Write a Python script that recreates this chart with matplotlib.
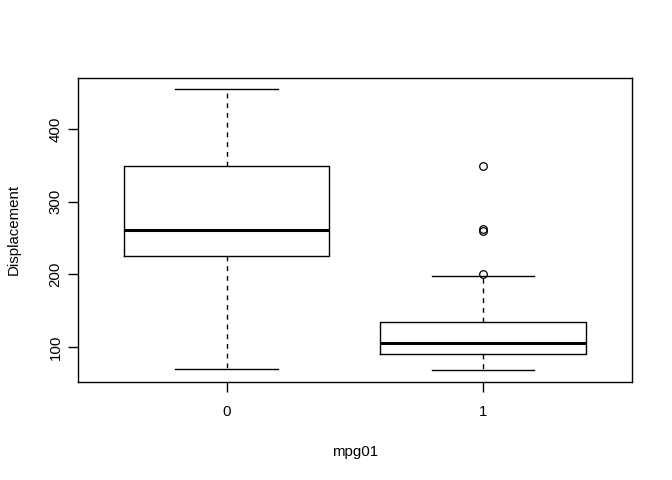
import matplotlib
matplotlib.use("Agg")
import matplotlib.pyplot as plt

plt.rcParams['font.family'] = ['Liberation Sans', 'DejaVu Sans']

# summary statistics (R boxplot of displacement by mpg01)
groups = ['0', '1']
whisker_low = [70, 68]
q1 = [225.75, 91]
medians = [261, 105]
q3 = [350, 134.5]
whisker_high = [455, 198]
outliers = [[], [200, 260, 262, 350]]

stats = []
for i, g in enumerate(groups):
    stats.append({'label': g, 'whislo': whisker_low[i], 'q1': q1[i],
                  'med': medians[i], 'q3': q3[i], 'whishi': whisker_high[i],
                  'fliers': outliers[i]})

fig = plt.figure(figsize=(6.72, 4.8), dpi=100)
ax = fig.add_axes([0.116, 0.205, 0.824, 0.6325])

ax.bxp(stats, positions=[1, 2], widths=0.8, patch_artist=False,
       boxprops=dict(color='black', linewidth=1),
       medianprops=dict(color='black', linewidth=2.2),
       whiskerprops=dict(color='black', linewidth=1, linestyle=(0, (3.5, 3.5))),
       capprops=dict(color='black', linewidth=1),
       capwidths=0.4,
       flierprops=dict(marker='o', markerfacecolor='none', markeredgecolor='black',
                       markersize=5.5, markeredgewidth=0.9))

ax.set_xlim(0.42, 2.58)
ax.set_ylim(52.5, 470.5)
ax.set_yticks([100, 200, 300, 400])
ax.set_xticks([1, 2])
ax.set_xticklabels(groups)

fs = 10.8
for s in ax.spines.values():
    s.set_linewidth(1)
ax.tick_params(axis='both', direction='out', length=7, width=1, labelsize=fs)
ax.tick_params(axis='x', pad=10)
ax.tick_params(axis='y', pad=4)
for lab in ax.get_yticklabels():
    lab.set_rotation(90)
    lab.set_va('center')

ax.set_xlabel('mpg01', fontsize=fs)
ax.set_ylabel('Displacement', fontsize=fs)
ax.xaxis.set_label_coords(0.5, -0.2315)
ax.yaxis.set_label_coords(-0.1155, 0.5)
ax.xaxis.label.set_va('center')
ax.yaxis.label.set_va('center')

fig.savefig('out.png', dpi=100)
